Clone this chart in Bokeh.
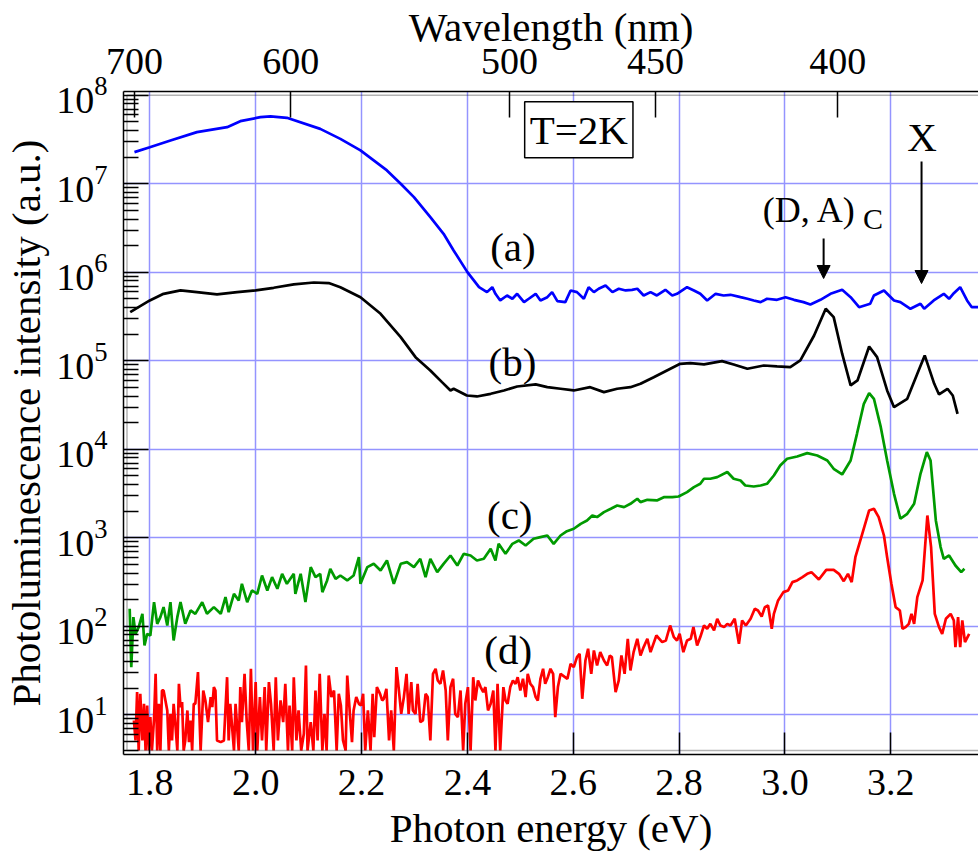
import numpy as np
from bokeh.plotting import figure
from bokeh.models import (Range1d, LinearAxis, LogAxis, FixedTicker, Label, Arrow, NormalHead,
                          CustomJSTickFormatter, PrintfTickFormatter, LogTickFormatter, BoxAnnotation)
from bokeh.embed import file_html
from bokeh.resources import INLINE

FONT = "Liberation Serif"
HC = 1239.84  # eV*nm, photon energy <-> wavelength

# ---------------- axes / ticks ----------------
energy_ticks = [1.8, 2.0, 2.2, 2.4, 2.6, 2.8, 3.0, 3.2]
wavelength_ticks_nm = [700, 600, 500, 450, 400]
decade_ticks = [1e1, 1e2, 1e3, 1e4, 1e5, 1e6, 1e7, 1e8]
grid_decades = [1e1, 1e2, 1e3, 1e4, 1e5, 1e6, 1e7]
minor_ticks = [m * 10.0 ** k for k in range(0, 8) for m in range(2, 10)]

# ---------------- data (photon energy eV, log10 PL intensity) ----------------
energy_a = [1.771, 1.800, 1.839, 1.889, 1.946, 1.971, 2.009, 2.028, 2.059, 2.122, 2.160, 2.198,
            2.248, 2.274, 2.299, 2.330, 2.355, 2.374, 2.400, 2.422, 2.437, 2.447, 2.453, 2.462,
            2.475, 2.485, 2.494, 2.507, 2.516, 2.529, 2.538, 2.551, 2.560, 2.570, 2.585, 2.595,
            2.607, 2.620, 2.629, 2.639, 2.648, 2.661, 2.674, 2.686, 2.699, 2.711, 2.721, 2.733,
            2.746, 2.758, 2.774, 2.787, 2.796, 2.815, 2.828, 2.840, 2.853, 2.869, 2.884, 2.897,
            2.916, 2.929, 2.941, 2.954, 2.966, 2.985, 3.001, 3.017, 3.035, 3.048, 3.067, 3.086,
            3.108, 3.124, 3.140, 3.161, 3.168, 3.187, 3.206, 3.218, 3.237, 3.256, 3.263, 3.281,
            3.300, 3.310, 3.319, 3.331, 3.344, 3.353, 3.365]
log_a = [7.358, 7.414, 7.490, 7.584, 7.640, 7.708, 7.753, 7.761, 7.746, 7.621, 7.508, 7.377,
         7.151, 7.000, 6.849, 6.623, 6.435, 6.247, 6.002, 5.832, 5.776, 5.832, 5.757, 5.682,
         5.738, 5.701, 5.757, 5.663, 5.701, 5.757, 5.682, 5.719, 5.776, 5.674, 5.663, 5.795,
         5.776, 5.701, 5.832, 5.776, 5.814, 5.851, 5.776, 5.814, 5.795, 5.802, 5.814, 5.738,
         5.776, 5.738, 5.802, 5.738, 5.757, 5.832, 5.795, 5.757, 5.682, 5.757, 5.738, 5.746,
         5.719, 5.701, 5.682, 5.663, 5.701, 5.689, 5.719, 5.689, 5.663, 5.637, 5.689, 5.757,
         5.802, 5.719, 5.606, 5.644, 5.738, 5.795, 5.682, 5.663, 5.588, 5.644, 5.588, 5.682,
         5.757, 5.701, 5.764, 5.832, 5.682, 5.606, 5.606]

energy_b = [1.763, 1.800, 1.826, 1.858, 1.889, 1.927, 1.965, 2.000, 2.034, 2.072, 2.110, 2.138,
            2.160, 2.198, 2.236, 2.274, 2.302, 2.330, 2.352, 2.368, 2.374, 2.399, 2.418, 2.444,
            2.469, 2.494, 2.529, 2.551, 2.576, 2.601, 2.632, 2.658, 2.683, 2.708, 2.727, 2.752,
            2.777, 2.802, 2.821, 2.847, 2.881, 2.903, 2.929, 2.960, 2.985, 3.010, 3.029, 3.055,
            3.077, 3.092, 3.108, 3.124, 3.137, 3.159, 3.174, 3.193, 3.206, 3.231, 3.250, 3.264,
            3.282, 3.291, 3.307, 3.317, 3.326]
log_b = [5.550, 5.682, 5.757, 5.795, 5.776, 5.750, 5.776, 5.795, 5.825, 5.863, 5.885, 5.878,
         5.832, 5.719, 5.531, 5.267, 5.041, 4.891, 4.759, 4.665, 4.684, 4.608, 4.597, 4.627,
         4.665, 4.710, 4.733, 4.703, 4.684, 4.665, 4.702, 4.646, 4.684, 4.702, 4.740, 4.815,
         4.891, 4.966, 4.974, 4.959, 4.996, 4.959, 4.910, 4.947, 4.936, 4.928, 5.004, 5.286,
         5.588, 5.494, 5.080, 4.722, 4.778, 5.162, 5.042, 4.665, 4.476, 4.571, 4.853, 5.061,
         4.740, 4.620, 4.684, 4.608, 4.401]

energy_c = [1.762, 1.765, 1.769, 1.773, 1.779, 1.786, 1.790, 1.795, 1.801, 1.808, 1.814, 1.820,
            1.826, 1.833, 1.839, 1.845, 1.852, 1.858, 1.867, 1.877, 1.886, 1.899, 1.908, 1.921,
            1.934, 1.943, 1.949, 1.959, 1.968, 1.974, 1.984, 1.993, 2.003, 2.012, 2.022, 2.031,
            2.041, 2.050, 2.059, 2.072, 2.075, 2.085, 2.094, 2.104, 2.113, 2.122, 2.126, 2.135,
            2.141, 2.151, 2.160, 2.173, 2.185, 2.195, 2.198, 2.211, 2.223, 2.236, 2.248, 2.261,
            2.274, 2.286, 2.299, 2.311, 2.321, 2.330, 2.343, 2.355, 2.368, 2.381, 2.393, 2.406,
            2.418, 2.431, 2.444, 2.453, 2.459, 2.472, 2.485, 2.497, 2.510, 2.525, 2.538, 2.551,
            2.563, 2.576, 2.588, 2.601, 2.614, 2.626, 2.636, 2.645, 2.658, 2.671, 2.683, 2.696,
            2.708, 2.721, 2.727, 2.740, 2.758, 2.771, 2.787, 2.799, 2.815, 2.828, 2.840, 2.847,
            2.859, 2.872, 2.891, 2.903, 2.916, 2.925, 2.941, 2.954, 2.966, 2.979, 2.991, 3.004,
            3.023, 3.042, 3.061, 3.080, 3.092, 3.108, 3.124, 3.136, 3.149, 3.159, 3.168, 3.181,
            3.193, 3.206, 3.218, 3.231, 3.244, 3.256, 3.268, 3.275, 3.285, 3.294, 3.300, 3.310,
            3.322, 3.333, 3.339]
log_c = [2.198, 1.539, 2.104, 1.915, 1.991, 2.141, 1.784, 1.915, 1.896, 2.273, 2.028, 2.104,
         2.217, 2.009, 2.273, 1.840, 2.104, 2.273, 2.028, 2.179, 2.141, 2.273, 2.141, 2.217,
         2.141, 2.330, 2.160, 2.367, 2.292, 2.480, 2.273, 2.405, 2.367, 2.574, 2.405, 2.556,
         2.424, 2.593, 2.480, 2.593, 2.367, 2.593, 2.273, 2.669, 2.556, 2.593, 2.386, 2.518,
         2.650, 2.537, 2.574, 2.518, 2.574, 2.781, 2.480, 2.669, 2.706, 2.631, 2.744, 2.480,
         2.706, 2.725, 2.669, 2.763, 2.556, 2.763, 2.612, 2.706, 2.800, 2.687, 2.819, 2.800,
         2.744, 2.763, 2.876, 2.744, 2.932, 2.819, 2.932, 2.970, 2.913, 2.989, 3.008, 3.026,
         2.932, 3.026, 3.075, 3.102, 3.158, 3.196, 3.252, 3.234, 3.290, 3.328, 3.365, 3.347,
         3.384, 3.441, 3.403, 3.429, 3.422, 3.459, 3.459, 3.467, 3.516, 3.573, 3.610, 3.667,
         3.667, 3.686, 3.743, 3.667, 3.648, 3.591, 3.580, 3.591, 3.610, 3.704, 3.817, 3.893,
         3.919, 3.957, 3.930, 3.874, 3.780, 3.716, 3.874, 4.175, 4.514, 4.635, 4.571, 4.250,
         3.874, 3.497, 3.215, 3.271, 3.384, 3.723, 3.968, 3.874, 3.196, 2.895, 2.763, 2.801,
         2.687, 2.612, 2.650]

energy_d = [1.770, 1.773, 1.776, 1.779, 1.782, 1.786, 1.789, 1.792, 1.795, 1.798, 1.801, 1.804,
            1.808, 1.811, 1.814, 1.817, 1.820, 1.823, 1.826, 1.833, 1.836, 1.839, 1.842, 1.845,
            1.848, 1.852, 1.855, 1.858, 1.861, 1.864, 1.867, 1.871, 1.874, 1.877, 1.880, 1.883,
            1.886, 1.891, 1.896, 1.901, 1.905, 1.910, 1.915, 1.918, 1.921, 1.924, 1.927, 1.934,
            1.940, 1.946, 1.949, 1.952, 1.959, 1.962, 1.968, 1.971, 1.974, 1.979, 1.983, 1.987,
            1.991, 1.995, 2.000, 2.003, 2.008, 2.012, 2.017, 2.020, 2.025, 2.029, 2.034, 2.038,
            2.042, 2.047, 2.052, 2.056, 2.061, 2.064, 2.069, 2.072, 2.077, 2.081, 2.086, 2.091,
            2.095, 2.098, 2.104, 2.109, 2.113, 2.117, 2.121, 2.126, 2.130, 2.134, 2.138, 2.143,
            2.148, 2.153, 2.157, 2.161, 2.165, 2.170, 2.173, 2.178, 2.182, 2.185, 2.190, 2.195,
            2.199, 2.203, 2.207, 2.212, 2.217, 2.221, 2.224, 2.229, 2.235, 2.239, 2.242, 2.247,
            2.252, 2.256, 2.261, 2.266, 2.270, 2.275, 2.280, 2.285, 2.289, 2.294, 2.297, 2.302,
            2.306, 2.311, 2.316, 2.321, 2.325, 2.330, 2.335, 2.340, 2.344, 2.349, 2.354, 2.359,
            2.363, 2.368, 2.373, 2.377, 2.382, 2.387, 2.392, 2.396, 2.401, 2.406, 2.411, 2.415,
            2.420, 2.425, 2.430, 2.434, 2.439, 2.444, 2.449, 2.453, 2.457, 2.462, 2.468, 2.472,
            2.476, 2.481, 2.486, 2.491, 2.495, 2.500, 2.505, 2.510, 2.514, 2.519, 2.524, 2.529,
            2.533, 2.538, 2.543, 2.547, 2.552, 2.557, 2.562, 2.566, 2.571, 2.576, 2.589, 2.595,
            2.601, 2.607, 2.612, 2.617, 2.623, 2.628, 2.634, 2.639, 2.645, 2.651, 2.658, 2.664,
            2.669, 2.673, 2.680, 2.686, 2.691, 2.697, 2.703, 2.708, 2.714, 2.721, 2.727, 2.733,
            2.740, 2.746, 2.757, 2.768, 2.775, 2.783, 2.790, 2.796, 2.801, 2.808, 2.815, 2.822,
            2.827, 2.834, 2.840, 2.847, 2.853, 2.859, 2.866, 2.872, 2.878, 2.885, 2.891, 2.897,
            2.905, 2.913, 2.919, 2.926, 2.935, 2.943, 2.949, 2.956, 2.962, 2.968, 2.975, 2.979,
            2.987, 2.997, 3.006, 3.014, 3.023, 3.033, 3.042, 3.050, 3.064, 3.078, 3.092, 3.102,
            3.111, 3.119, 3.126, 3.133, 3.146, 3.159, 3.168, 3.177, 3.187, 3.193, 3.201, 3.209,
            3.217, 3.222, 3.228, 3.234, 3.239, 3.244, 3.250, 3.260, 3.269, 3.276, 3.283, 3.291,
            3.297, 3.304, 3.313, 3.319, 3.322, 3.327, 3.331, 3.335, 3.340, 3.348]
# values at 0.597 sit on the bottom edge of the plot (10^0.597, clipped noise)
log_d = [0.936, 0.710, 1.256, 0.597, 1.237, 0.710, 1.124, 0.597, 1.105, 0.597, 0.974, 0.597,
         0.955, 1.463, 0.597, 1.124, 0.597, 1.275, 1.275, 1.049, 0.597, 1.011, 0.710, 1.124,
         0.917, 0.597, 1.350, 1.087, 1.143, 0.597, 0.710, 1.049, 0.691, 0.936, 0.597, 1.124,
         1.124, 1.482, 0.597, 1.275, 1.162, 0.917, 1.200, 1.087, 1.313, 1.275, 0.710, 0.691,
         0.710, 1.425, 0.710, 1.124, 0.597, 1.124, 0.597, 1.313, 0.917, 1.463, 0.936, 0.597,
         1.520, 0.597, 1.369, 0.597, 1.200, 0.710, 1.313, 0.597, 1.369, 1.124, 0.597, 1.425,
         0.710, 1.162, 0.917, 1.350, 0.597, 1.105, 0.597, 1.425, 0.710, 1.049, 0.597, 0.785,
         1.557, 0.597, 0.917, 0.597, 1.275, 0.710, 1.463, 0.597, 1.011, 0.597, 1.444, 1.200,
         1.275, 0.597, 1.237, 1.105, 0.710, 0.597, 1.444, 1.011, 0.691, 1.049, 1.200, 1.124,
         1.105, 1.237, 0.597, 1.049, 0.597, 1.237, 0.748, 1.313, 1.237, 1.162, 1.181, 1.294,
         0.710, 1.049, 0.597, 1.539, 1.313, 1.011, 1.200, 1.463, 1.011, 1.369, 1.049, 1.011,
         1.350, 0.917, 0.936, 1.237, 1.200, 0.710, 1.463, 1.520, 1.388, 1.350, 1.501, 1.275,
         0.710, 1.313, 1.407, 1.011, 0.974, 1.275, 0.597, 1.124, 1.313, 0.597, 1.425, 1.162,
         1.388, 1.313, 1.256, 1.313, 1.049, 1.124, 1.275, 0.597, 1.350, 0.597, 1.313, 1.162,
         1.124, 1.313, 1.388, 1.350, 1.425, 1.275, 1.407, 1.200, 1.463, 1.350, 1.313, 1.200,
         1.162, 1.407, 1.520, 1.350, 1.425, 1.520, 1.463, 0.974, 1.313, 1.463, 1.407, 1.576,
         1.539, 1.652, 1.689, 1.181, 1.614, 1.746, 1.463, 1.727, 1.557, 1.708, 1.614, 1.557,
         1.670, 1.652, 1.256, 1.388, 1.670, 1.463, 1.859, 1.501, 1.708, 1.859, 1.670, 1.765,
         1.859, 1.708, 1.896, 1.821, 1.840, 2.009, 1.878, 1.840, 1.915, 1.708, 1.840, 1.859,
         1.991, 1.783, 1.878, 2.009, 1.972, 2.028, 1.953, 2.085, 2.009, 1.991, 2.028, 2.009,
         2.085, 1.802, 2.066, 2.009, 2.085, 2.198, 2.179, 2.111, 2.217, 2.235, 1.972, 2.141,
         2.292, 2.386, 2.405, 2.499, 2.518, 2.556, 2.593, 2.612, 2.529, 2.638, 2.638, 2.593,
         2.510, 2.593, 2.499, 2.781, 3.045, 3.309, 3.328, 3.234, 3.026, 2.781, 2.480, 2.217,
         2.179, 1.972, 1.991, 2.028, 2.141, 2.028, 2.329, 2.518, 3.252, 2.895, 2.141, 1.991,
         1.915, 2.085, 2.141, 2.066, 1.765, 2.104, 1.765, 2.066, 1.821, 1.915]

curve_labels = ["(a)", "(b)", "(c)", "(d)"]

# ---------------- figure ----------------
# frame edges sit on the outer frame line; an inner box gives the double frame line
X_START, X_END = 1.7503, 3.3656
Y_START, Y_END = 10 ** 0.5514, 10 ** 8.043
INNER_LEFT, INNER_BOTTOM, INNER_TOP = 1.7569, 10 ** 0.597, 1e8

p = figure(width=978, height=853, x_range=Range1d(X_START, X_END), y_range=Range1d(Y_START, Y_END),
           y_axis_type="log", x_axis_location=None, y_axis_location=None,
           toolbar_location=None, output_backend="svg",
           min_border_left=123, min_border_right=0, min_border_top=91, min_border_bottom=99)
p.outline_line_color = None
p.background_fill_color = "white"
p.border_fill_color = "white"

GRID_COLOR = "#9494ff"
p.xgrid.ticker = FixedTicker(ticks=energy_ticks, minor_ticks=[])
p.ygrid.ticker = FixedTicker(ticks=grid_decades, minor_ticks=[])
for g in (p.xgrid, p.ygrid):
    g.grid_line_color = GRID_COLOR
    g.grid_line_width = 1.5

FS = "41px"
TICK_FS = "38px"

def make_axis(cls, ticker, formatter, label, tick_in, minor_in, standoff, label_standoff):
    ax = cls(ticker=ticker, formatter=formatter)
    ax.major_tick_in = tick_in
    ax.major_tick_out = 0
    ax.minor_tick_in = minor_in
    ax.minor_tick_out = 0
    ax.major_tick_line_width = 1.5
    ax.minor_tick_line_width = 1.5
    ax.major_tick_line_color = "black"
    ax.minor_tick_line_color = "black"
    ax.axis_line_width = 1.5
    ax.axis_line_color = "black"
    ax.major_label_text_font = FONT
    ax.major_label_text_font_size = TICK_FS
    ax.major_label_text_color = "black"
    ax.major_label_standoff = standoff
    ax.axis_label = label
    ax.axis_label_text_font = FONT
    ax.axis_label_text_font_size = FS
    ax.axis_label_text_font_style = "normal"
    ax.axis_label_text_color = "black"
    ax.axis_label_standoff = label_standoff
    return ax

x_ticker = FixedTicker(ticks=energy_ticks, minor_ticks=[])
wl_ticker = FixedTicker(ticks=[HC / w for w in wavelength_ticks_nm], minor_ticks=[])
y_ticker = FixedTicker(ticks=decade_ticks, minor_ticks=minor_ticks)

p.add_layout(make_axis(LinearAxis, x_ticker, PrintfTickFormatter(format="%.1f"),
                       "Photon energy (eV)", 22, 0, 15, 7), "below")
p.add_layout(make_axis(LinearAxis, wl_ticker,
                       CustomJSTickFormatter(code="return Math.round(%r / tick).toString()" % HC),
                       "Wavelength (nm)", 26, 0, 18, -4), "above")
p.add_layout(make_axis(LogAxis, y_ticker, LogTickFormatter(),
                       "Photoluminescence intensity (a.u.)", 25, 15, 16, 4), "left")

# inner line of the double frame
p.add_layout(BoxAnnotation(left=INNER_LEFT, right=X_END + 0.2, bottom=INNER_BOTTOM, top=INNER_TOP,
                           fill_color=None, line_color="black", line_width=1.5))

# ---------------- curves ----------------
LW = 2.7
p.line(energy_a, 10 ** np.array(log_a), line_color="#0000ff", line_width=LW)
p.line(energy_b, 10 ** np.array(log_b), line_color="black", line_width=LW)
p.line(energy_c, 10 ** np.array(log_c), line_color="#009a00", line_width=LW)
p.line(energy_d, 10 ** np.array(log_d), line_color="#ff0000", line_width=LW)

# ---------------- annotations ----------------
def text_label(x, y, text, size=FS, align="center", **kw):
    p.add_layout(Label(x=x, y=y, text=text, text_font=FONT, text_font_size=size,
                       text_align=align, text_baseline="alphabetic", text_color="black", **kw))

label_E = [2.486, 2.485, 2.480, 2.477]
label_I = [10 ** 6.283, 10 ** 4.992, 10 ** 3.260, 10 ** 1.734]
for txt, xe, yi in zip(curve_labels, label_E, label_I):
    text_label(xe, yi, txt)

text_label(2.6105, 10 ** 7.61, "T=2K", border_line_color="black", border_line_width=1.5,
           background_fill_color="white", padding=5)
text_label(3.2589, 10 ** 7.526, "X")
text_label(3.0466, 10 ** 6.706, "(D, A)", size="36px")
text_label(3.1475, 10 ** 6.611, "C", size="30px", align="left")

for xe, y0, y1 in [(3.258, 7.252, 5.873), (3.073, 6.382, 5.930)]:
    p.add_layout(Arrow(x_start=xe, y_start=10 ** y0, x_end=xe, y_end=10 ** y1,
                       line_color="black", line_width=2,
                       end=NormalHead(size=13, fill_color="black", line_color="black", line_width=1)))

open("out.html", "w").write(file_html(p, INLINE))
